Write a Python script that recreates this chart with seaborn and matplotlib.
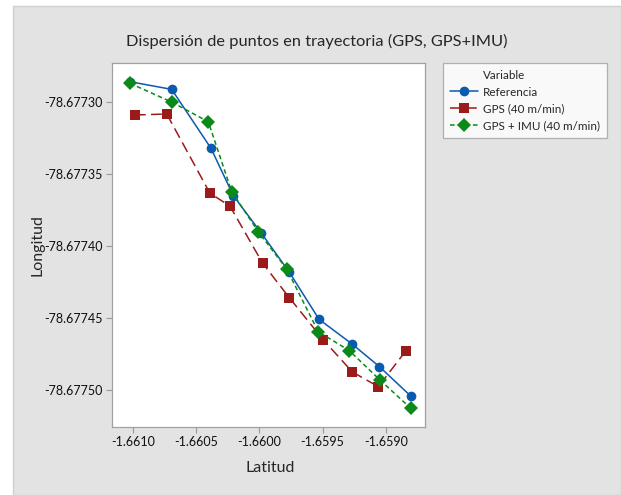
import numpy as np
import pandas as pd
import matplotlib
matplotlib.use("Agg")
import matplotlib.pyplot as plt
import seaborn as sns
from matplotlib.patches import Rectangle
from matplotlib.lines import Line2D
from matplotlib.ticker import FormatStrFormatter

# Data
series_names = ["Referencia", "GPS (40 m/min)", "GPS + IMU (40 m/min)"]

ref_lat = [-1.661024, -1.660694, -1.660383, -1.660206, -1.659987,
           -1.659763, -1.659528, -1.659270, -1.659051, -1.658803]
ref_lon = [-78.6772861, -78.6772914, -78.6773323, -78.6773652, -78.6773909,
           -78.6774183, -78.6774510, -78.6774679, -78.6774838, -78.6775042]

gps_lat = [-1.660984, -1.660733, -1.660391, -1.660233, -1.659974,
           -1.659763, -1.659494, -1.659265, -1.659059, -1.658840]
gps_lon = [-78.6773092, -78.6773085, -78.6773635, -78.6773724, -78.6774121,
           -78.6774360, -78.6774653, -78.6774875, -78.6774977, -78.6774727]

imu_lat = [-1.661024, -1.660689, -1.660404, -1.660219, -1.660009,
           -1.659784, -1.659534, -1.659289, -1.659046, -1.658803]
imu_lon = [-78.6772872, -78.6773004, -78.6773139, -78.6773624, -78.6773902,
           -78.6774161, -78.6774596, -78.6774727, -78.6774931, -78.6775127]

x_ticks = [-1.6610, -1.6605, -1.6600, -1.6595, -1.6590]
y_ticks = [-78.67730, -78.67735, -78.67740, -78.67745, -78.67750]

df = pd.concat([
    pd.DataFrame({"Latitud": ref_lat, "Longitud": ref_lon, "Variable": series_names[0]}),
    pd.DataFrame({"Latitud": gps_lat, "Longitud": gps_lon, "Variable": series_names[1]}),
    pd.DataFrame({"Latitud": imu_lat, "Longitud": imu_lon, "Variable": series_names[2]}),
], ignore_index=True)

sns.set_style("white")
plt.rcParams["font.family"] = ["Lato", "DejaVu Sans"]

bg = "#e3e3e3"
fig = plt.figure(figsize=(6.21, 4.95), dpi=100)
fig.patch.set_facecolor("white")
# grey Minitab-style panel behind everything
fig.patches.append(Rectangle((13 / 621, 0), 1 - 13 / 621, 1 - 6 / 495,
                             transform=fig.transFigure, facecolor=bg,
                             edgecolor="#cfcfcf", lw=1, zorder=-10))

ax = fig.add_axes([112 / 621, 1 - 426.7 / 495, (425 - 112) / 621, (426.7 - 62.7) / 495])
ax.set_facecolor("white")

palette = {series_names[0]: "#0a5bb0", series_names[1]: "#9b1b1b", series_names[2]: "#0b8a1a"}
markers = {series_names[0]: "o", series_names[1]: "s", series_names[2]: "D"}
dashes = {series_names[0]: "", series_names[1]: (7, 3.5), series_names[2]: (3, 2)}

sns.lineplot(data=df, x="Latitud", y="Longitud", hue="Variable", style="Variable",
             markers=markers, dashes=dashes, palette=palette, sort=False,
             estimator=None, markersize=7, markeredgewidth=0, linewidth=1.1, ax=ax)

ax.set_xlim(-1.661166, -1.658690)
ax.set_ylim(-78.6775255, -78.6772729)
ax.set_xticks(x_ticks)
ax.set_yticks(y_ticks)
ax.xaxis.set_major_formatter(FormatStrFormatter("%.4f"))
ax.yaxis.set_major_formatter(FormatStrFormatter("%.5f"))
ax.tick_params(axis="both", direction="out", length=4, width=0.8, color="#999999",
               labelsize=9, pad=3, bottom=True, left=True, labelcolor="#111111")
for s in ax.spines.values():
    s.set_color("#a0a0a0")
    s.set_linewidth(0.9)

ax.set_xlabel("Latitud", fontsize=11.5)
ax.set_ylabel("Longitud", fontsize=11.5)
ax.xaxis.set_label_coords(270 / 621, 1 - 468 / 495, transform=fig.transFigure)
ax.yaxis.set_label_coords(38 / 621, 1 - 245 / 495, transform=fig.transFigure)
ax.xaxis.label.set_va("center")
ax.yaxis.label.set_va("center")

fig.text(317 / 621, 1 - 41 / 495, "Dispersión de puntos en trayectoria (GPS, GPS+IMU)",
         ha="center", va="center", fontsize=11.8)

# legend: "Variable" header aligned with the entry labels
handles, labels = ax.get_legend_handles_labels()
blank = Line2D([], [], linestyle="none", marker=None)
leg = ax.legend(handles=[blank] + handles, labels=["Variable"] + labels,
                loc="upper left", bbox_to_anchor=(443 / 621, 1 - 62.7 / 495),
                bbox_transform=fig.transFigure, frameon=True, fancybox=False,
                fontsize=8.4, handlelength=2.4, handletextpad=0.45, borderpad=0.6,
                labelspacing=0.5, borderaxespad=0, edgecolor="#a0a0a0")
leg.get_frame().set_linewidth(0.9)

fig.savefig("out.png", dpi=100, facecolor=fig.get_facecolor())
